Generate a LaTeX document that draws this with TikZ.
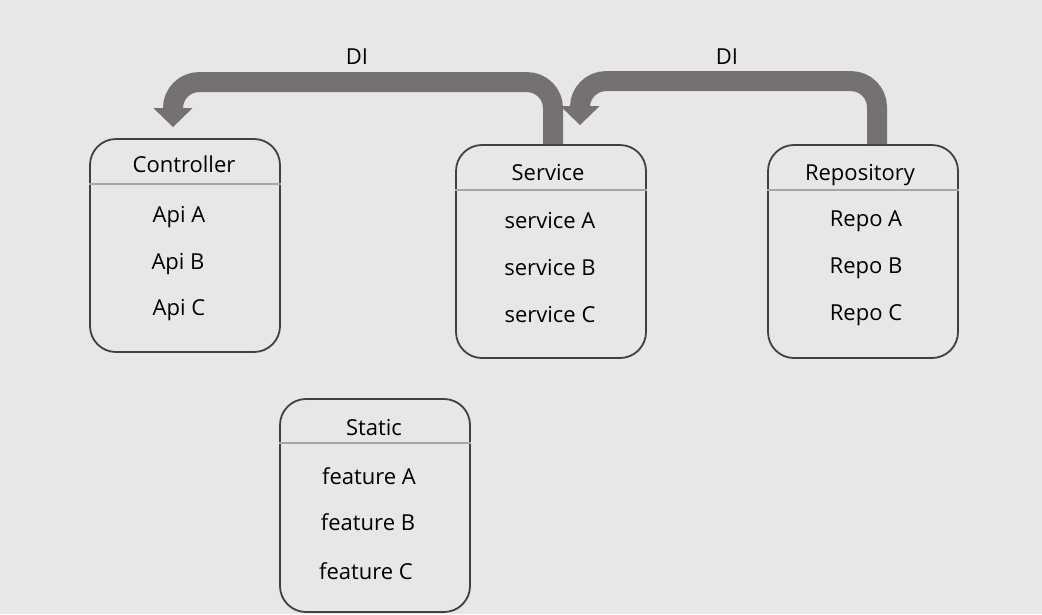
\documentclass[tikz,border=0pt]{standalone}
\usepackage{fontspec}
\setmainfont{Open Sans}
\usetikzlibrary{arrows.meta}
\definecolor{bg}{HTML}{E7E7E7}
\definecolor{band}{HTML}{767171}
\definecolor{edge}{HTML}{404040}
\definecolor{hdr}{HTML}{A6A6A6}
\tikzset{
  box/.style={draw=edge, line width=1.8pt, rounded corners=26pt, minimum width=190pt, minimum height=213pt, inner sep=0pt},
  hline/.style={draw=hdr, line width=1.8pt},
  lbl/.style={font=\fontsize{22}{26}\selectfont, inner sep=0pt, text height=15.7pt, text depth=0pt, anchor=center},
  di/.style={draw=band, line width=20pt, rounded corners=26pt, -{Triangle[width=38pt,length=19pt]}},
}
\begin{document}
\begin{tikzpicture}[x=1pt,y=-1pt]
\fill[bg] (0,0) rectangle (1042,614);
\useasboundingbox (0,0) rectangle (1042,614);
% boxes
\node[box] (ctl) at (185,245.5) {};
\node[box] (svc) at (551,251.5) {};
\node[box] (rep) at (863,251.5) {};
\node[box] (sta) at (375,505.5) {};
% header lines
\draw[hline] ([yshift=-46pt]ctl.north west) -- ([yshift=-46pt]ctl.north east);
\draw[hline] ([yshift=-46pt]svc.north west) -- ([yshift=-46pt]svc.north east);
\draw[hline] ([yshift=-46pt]rep.north west) -- ([yshift=-46pt]rep.north east);
\draw[hline] ([yshift=-45pt]sta.north west) -- ([yshift=-45pt]sta.north east);
% texts
\node[lbl] (ctlh) at (184,165) {Controller};
\node[lbl] (ctla) at (179,215) {Api A};
\node[lbl] (ctlb) at (178,262) {Api B};
\node[lbl] (ctlc) at (179,308) {Api C};
\node[lbl] (svch) at (548,173) {Service};
\node[lbl] (svca) at (550,221) {service A};
\node[lbl] (svcb) at (550,268) {service B};
\node[lbl] (svcc) at (550,315) {service C};
\node[lbl] (reph) at (860,173) {Repository};
\node[lbl] (repa) at (866,219) {Repo A};
\node[lbl] (repb) at (866,266) {Repo B};
\node[lbl] (repc) at (866,313) {Repo C};
\node[lbl] (stah) at (374,428) {Static};
\node[lbl] (staa) at (369,477) {feature A};
\node[lbl] (stab) at (368,523) {feature B};
\node[lbl] (stac) at (366,572) {feature C};
% DI arrows
\draw[di] ([xshift=2pt]svc.north) -- ++(0,-62) -| ([xshift=-12pt,yshift=11pt]ctl.north);
\draw[di] ([xshift=14pt]rep.north) -- ++(0,-63) -| ([xshift=29pt,yshift=19pt]svc.north);
\node[lbl] (di1) at (357,57) {DI};
\node[lbl] (di2) at (727,57) {DI};
\end{tikzpicture}
\end{document}
